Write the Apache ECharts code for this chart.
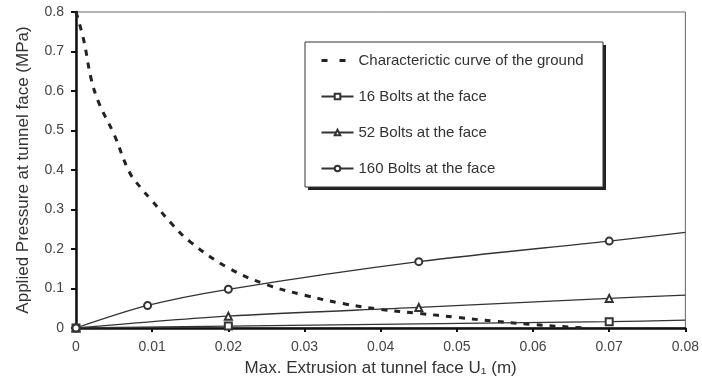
<!DOCTYPE html>
<html>
<head>
<meta charset="utf-8">
<script src="https://cdn.jsdelivr.net/npm/echarts@6/dist/echarts.min.js"></script>
<style>
html,body{margin:0;padding:0;background:#fff;}
#chart{width:702px;height:385px;}
</style>
</head>
<body>
<div id="chart"></div>
<script>
var groundX = [0, 0.001, 0.002, 0.003, 0.005, 0.007, 0.0085, 0.01, 0.0125, 0.015, 0.02, 0.025, 0.03, 0.035, 0.04, 0.045, 0.05, 0.055, 0.06, 0.065, 0.067];
var groundY = [0.8, 0.73, 0.63, 0.57, 0.49, 0.395, 0.355, 0.322, 0.265, 0.218, 0.152, 0.11, 0.083, 0.062, 0.047, 0.037, 0.027, 0.017, 0.009, 0.002, 0];

var b16X = [0, 0.02, 0.07, 0.08];
var b16Y = [0, 0.005, 0.016, 0.02];
var b16Marked = [true, true, true, false];

var b52X = [0, 0.02, 0.045, 0.07, 0.08];
var b52Y = [0, 0.03, 0.052, 0.075, 0.083];
var b52Marked = [true, true, true, true, false];

var b160X = [0, 0.0094, 0.02, 0.045, 0.07, 0.08];
var b160Y = [0, 0.057, 0.098, 0.168, 0.22, 0.242];
var b160Marked = [true, true, true, true, true, false];

var seriesNames = ['Characterictic curve of the ground', '16 Bolts at the face', '52 Bolts at the face', '160 Bolts at the face'];
var xTicks = ['0', '0.01', '0.02', '0.03', '0.04', '0.05', '0.06', '0.07', '0.08'];
var yTicks = ['0', '0.1', '0.2', '0.3', '0.4', '0.5', '0.6', '0.7', '0.8'];

function pairs(xs, ys, marked) {
  return xs.map(function (x, i) {
    var item = { value: [x, ys[i]] };
    if (marked && !marked[i]) item.symbol = 'none';
    return item;
  });
}

var FONT = 'Liberation Sans, Arial, sans-serif';
var chart = echarts.init(document.getElementById('chart'), null, { renderer: 'canvas' });
chart.setOption({
  animation: false,
  backgroundColor: '#fff',
  grid: { left: 76, right: 12, top: 12, bottom: 57, show: true, borderColor: '#666', borderWidth: 1, backgroundColor: 'transparent' },
  graphic: [
    { type: 'rect', z: 3, shape: { x: 308, y: 45, width: 298, height: 145 }, style: { fill: '#222' } },
    { type: 'rect', z: 3, shape: { x: 305, y: 42, width: 298, height: 145 }, style: { fill: '#fff', stroke: '#333', lineWidth: 1 } }
  ],
  legend: {
    orient: 'vertical',
    left: 320, top: 53,
    padding: 0,
    itemGap: 21,
    itemWidth: 32, itemHeight: 7,
    z: 5,
    textStyle: { fontFamily: FONT, fontSize: 15, color: '#333' },
    data: [
      { name: seriesNames[0], itemStyle: { opacity: 0 }, lineStyle: { type: [6, 12], width: 3 } },
      { name: seriesNames[1] },
      { name: seriesNames[2] },
      { name: seriesNames[3] }
    ]
  },
  xAxis: {
    type: 'value', min: 0, max: 0.08, interval: 0.01,
    name: 'Max. Extrusion at tunnel face U\u2081 (m)',
    nameLocation: 'middle', nameGap: 32,
    nameTextStyle: { fontFamily: FONT, fontSize: 17, color: '#333' },
    axisLine: { show: true, lineStyle: { color: '#111', width: 2.5 } },
    axisTick: { show: true, inside: false, length: 4, lineStyle: { color: '#111', width: 2 } },
    axisLabel: { fontFamily: FONT, fontSize: 14, color: '#444', margin: 12,
      formatter: function (v) { return xTicks[Math.round(v / 0.01)]; } },
    splitLine: { show: false }
  },
  yAxis: {
    type: 'value', min: 0, max: 0.8, interval: 0.1,
    name: 'Applied Pressure at tunnel face (MPa)',
    nameLocation: 'middle', nameGap: 44,
    nameTextStyle: { fontFamily: FONT, fontSize: 17, color: '#333' },
    axisLine: { show: true, lineStyle: { color: '#111', width: 2.5 } },
    axisTick: { show: true, inside: false, length: 5, lineStyle: { color: '#111', width: 2 } },
    axisLabel: { fontFamily: FONT, fontSize: 14, color: '#444', margin: 12,
      formatter: function (v) { return yTicks[Math.round(v / 0.1)]; } },
    splitLine: { show: false }
  },
  series: [
    {
      name: seriesNames[0], type: 'line', smooth: 0.4, symbol: 'none',
      data: pairs(groundX, groundY),
      lineStyle: { color: '#222', width: 3, type: [6, 7] },
      itemStyle: { color: '#222' }
    },
    {
      name: seriesNames[1], type: 'line', smooth: 0.3, symbol: 'emptyRect', symbolSize: 7,
      data: pairs(b16X, b16Y, b16Marked),
      lineStyle: { color: '#333', width: 1.3 },
      itemStyle: { color: '#333', borderWidth: 1 }
    },
    {
      name: seriesNames[2], type: 'line', smooth: 0.3, symbol: 'emptyTriangle', symbolSize: 7,
      data: pairs(b52X, b52Y, b52Marked),
      lineStyle: { color: '#333', width: 1.3 },
      itemStyle: { color: '#333', borderWidth: 1 }
    },
    {
      name: seriesNames[3], type: 'line', smooth: 0.3, symbol: 'emptyCircle', symbolSize: 7,
      data: pairs(b160X, b160Y, b160Marked),
      lineStyle: { color: '#333', width: 1.3 },
      itemStyle: { color: '#333', borderWidth: 1 }
    }
  ]
});
</script>
</body>
</html>
